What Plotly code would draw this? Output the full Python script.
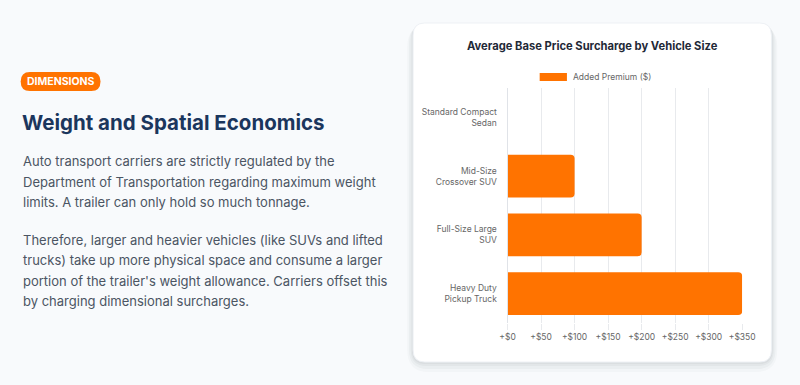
import plotly.graph_objects as go

W, H = 800, 385

# ---- data ----
categories = ["Standard Compact<br>Sedan", "Mid-Size<br>Crossover SUV", "Full-Size Large<br>SUV", "Heavy Duty<br>Pickup Truck"]
premium = [0, 100, 200, 350]
series_name = "Added Premium ($)"
tick_vals = [0, 50, 100, 150, 200, 250, 300, 350]
tick_text = ["+$" + str(v) for v in tick_vals]

chart_title = "Average Base Price Surcharge by Vehicle Size"
badge_text = "DIMENSIONS"
heading = "Weight and Spatial Economics"
para1 = ["Auto transport carriers are strictly regulated by the",
         "Department of Transportation regarding maximum weight",
         "limits. A trailer can only hold so much tonnage."]
para2 = ["Therefore, larger and heavier vehicles (like SUVs and lifted",
         "trucks) take up more physical space and consume a larger",
         "portion of the trailer's weight allowance. Carriers offset this",
         "by charging dimensional surcharges."]

ORANGE = "#FF7300"
NAVY = "#1B365D"
TEXT = "#4B5563"
BG = "#F8FAFC"
FONT = "Inter, Roboto, sans-serif"


def px(x):
    return x / W


def py(y):
    return 1 - y / H


def rrect(x0, y0, x1, y1, r):
    rx, ry = r / W, r / H
    X0, X1 = px(x0), px(x1)
    Y0, Y1 = py(y0), py(y1)
    return (f"M {X0+rx},{Y0} L {X1-rx},{Y0} Q {X1},{Y0} {X1},{Y0-ry} "
            f"L {X1},{Y1+ry} Q {X1},{Y1} {X1-rx},{Y1} "
            f"L {X0+rx},{Y1} Q {X0},{Y1} {X0},{Y1+ry} "
            f"L {X0},{Y0-ry} Q {X0},{Y0} {X0+rx},{Y0} Z")


fig = go.Figure()
fig.add_trace(go.Bar(
    x=premium, y=categories, orientation="h", name=series_name,
    marker=dict(color=ORANGE, line=dict(width=0)),
    showlegend=False, hoverinfo="x+y",
))

shapes = []
# soft card shadow
for off, op in [(10, 0.025), (7, 0.03), (4, 0.035), (2, 0.04)]:
    shapes.append(dict(type="path", xref="paper", yref="paper", layer="below",
                       path=rrect(416 - off * 0.6, 23 + off * 0.2, 784 + off * 0.6, 362 + off, 12 + off),
                       fillcolor=f"rgba(15,23,42,{op})", line=dict(width=0)))
# card
shapes.append(dict(type="path", xref="paper", yref="paper", layer="below",
                   path=rrect(416, 23, 784, 362, 12),
                   fillcolor="white", line=dict(color="#EEF1F5", width=1)))
# badge pill
shapes.append(dict(type="path", xref="paper", yref="paper", layer="below",
                   path=rrect(13, 72, 95, 91, 9.5),
                   fillcolor=ORANGE, line=dict(width=0)))
# legend swatch
shapes.append(dict(type="rect", xref="paper", yref="paper",
                   x0=px(546), x1=px(574), y0=py(73), y1=py(81),
                   fillcolor=ORANGE, line=dict(width=0)))

ann = []
ann.append(dict(text=f"<b>{badge_text}</b>", x=px(54), y=py(81.5), xref="paper", yref="paper",
                xanchor="center", yanchor="middle", showarrow=False,
                font=dict(family=FONT, size=10.5, color="white")))
ann.append(dict(text=f"<b>{heading}</b>", x=px(12), y=py(122), xref="paper", yref="paper",
                xanchor="left", yanchor="middle", showarrow=False,
                font=dict(family=FONT, size=20.5, color=NAVY)))
for i, line in enumerate(para1):
    ann.append(dict(text=line, x=px(13), y=py(161 + i * 20.5), xref="paper", yref="paper",
                    xanchor="left", yanchor="middle", showarrow=False,
                    font=dict(family=FONT, size=13, color=TEXT)))
for i, line in enumerate(para2):
    ann.append(dict(text=line, x=px(13), y=py(239.5 + i * 20.5), xref="paper", yref="paper",
                    xanchor="left", yanchor="middle", showarrow=False,
                    font=dict(family=FONT, size=13, color=TEXT)))
ann.append(dict(text=f"<b>{chart_title}</b>", x=px(600), y=py(46.5), xref="paper", yref="paper",
                xanchor="center", yanchor="middle", showarrow=False,
                font=dict(family=FONT, size=11.2, color="#1F2937")))
ann.append(dict(text=series_name, x=px(578), y=py(77), xref="paper", yref="paper",
                xanchor="left", yanchor="middle", showarrow=False,
                font=dict(family=FONT, size=8.5, color="#666666")))

fig.update_layout(
    width=W, height=H, autosize=False,
    margin=dict(l=0, r=0, t=0, b=0),
    paper_bgcolor=BG, plot_bgcolor="rgba(0,0,0,0)",
    bargap=0.27, barcornerradius=4,
    shapes=shapes, annotations=ann,
    showlegend=False,
    xaxis=dict(domain=[px(513), px(754)], range=[0, 350], tickvals=tick_vals, ticktext=tick_text,
               showgrid=True, gridcolor="#E8EAED", gridwidth=1, zeroline=False,
               ticks="outside", ticklen=6, tickcolor="#E8EAED",
               tickfont=dict(family=FONT, size=8.5, color="#666666"), fixedrange=True),
    yaxis=dict(domain=[py(323), py(88)], autorange="reversed", showgrid=False,
               showline=True, linecolor="#E0E3E8", linewidth=1,
               ticks="", ticklabelstandoff=8,
               tickfont=dict(family=FONT, size=8.5, color="#666666"), fixedrange=True),
)

fig.write_html(
    "out.html",
    config={"responsive": False, "displayModeBar": False},
    post_script="document.body.style.margin='0';document.body.style.overflow='hidden';",
)
